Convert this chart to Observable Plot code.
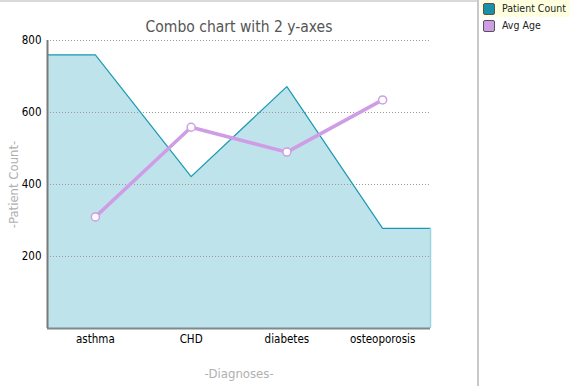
<!DOCTYPE html>
<html>
<head>
<meta charset="utf-8">
<script src="https://cdn.jsdelivr.net/npm/d3@7"></script>
<script src="https://cdn.jsdelivr.net/npm/@observablehq/plot@0.6"></script>
<style>
  body { margin: 0; background: #fff; }
  #wrap { position: relative; width: 570px; height: 386px; overflow: hidden; font-family: "DejaVu Sans Condensed", "DejaVu Sans", sans-serif; }
  #topline { position: absolute; left: 0; top: 0; width: 478px; height: 2px; background: #d9d9d9; }
  #vline { position: absolute; left: 477px; top: 0; width: 2px; height: 386px; background: #c9c9c9; }
  #legend { position: absolute; left: 481px; top: 0; width: 89px; font-size: 10.5px; }
  .item { position: relative; height: 17px; line-height: 17px; padding-left: 21px; color: #222; }
  .item.hl { background: #ffffe0; }
  .sw { position: absolute; left: 2px; top: 3px; width: 10px; height: 10px; border: 1px solid #555; border-radius: 2px; }
  #chart { position: absolute; left: 0; top: 0; }
</style>
</head>
<body>
<div id="wrap">
  <div id="chart"></div>
  <div id="topline"></div>
  <div id="vline"></div>
  <div id="legend"></div>
</div>
<script>
const categories = ["asthma", "CHD", "diabetes", "osteoporosis"];
const patientCount = [760, 422, 672, 278];
const avgAge = [310, 559, 490, 635];
const yTicks = [200, 400, 600, 800];
const seriesNames = ["Patient Count", "Avg Age"];
const seriesColors = ["#1a8fa8", "#cf9de6"];

const rows = categories.map((c, i) => ({i, cat: c, count: patientCount[i], age: avgAge[i]}));
const last = rows.length - 1;
const areaRows = [{i: -0.5, count: patientCount[0]}, ...rows, {i: last + 0.5, count: patientCount[last]}];

const chart = Plot.plot({
  width: 478,
  height: 386,
  marginLeft: 47,
  marginRight: 48,
  marginTop: 40,
  marginBottom: 58,
  style: {fontFamily: "'DejaVu Sans Condensed', 'DejaVu Sans', sans-serif", fontSize: "10px", color: "#000", background: "transparent"},
  x: {type: "linear", domain: [-0.5, last + 0.5]},
  y: {domain: [0, 800]},
  marks: [
    Plot.areaY(areaRows, {x: "i", y: "count", fill: "#bfe3ea"}),
    Plot.gridY(yTicks, {stroke: "#9a9a9a", strokeOpacity: 1, strokeDasharray: "1,2"}),
    Plot.lineY(areaRows, {x: "i", y: "count", stroke: "#1a9ab2", strokeWidth: 1.2}),
    Plot.ruleX([last + 0.5], {y1: 0, y2: d => patientCount[last], stroke: "#9fd3de", strokeWidth: 1.5}),
    Plot.lineY(rows, {x: "i", y: "age", stroke: seriesColors[1], strokeWidth: 3.5}),
    Plot.dot(rows, {x: "i", y: "age", r: 4, fill: "#fff", stroke: seriesColors[1], strokeWidth: 1.5}),
    Plot.ruleY([0], {stroke: "#7d8a8c", strokeWidth: 2}),
    Plot.ruleX([-0.5], {y1: 0, y2: 800, stroke: "#7a7a7a", strokeWidth: 2}),
    Plot.axisY(yTicks, {tickSize: 0, tickPadding: 6, fontSize: 11.5, label: "-Patient Count-", labelAnchor: "center", labelArrow: "none", labelOffset: 39}),
    Plot.axisX(rows.map(d => d.i), {tickSize: 0, tickPadding: 6, fontSize: 11.5, tickFormat: i => categories[i], label: "-Diagnoses-", labelAnchor: "center", labelArrow: "none", labelOffset: 49}),
    Plot.text(["Combo chart with 2 y-axes"], {frameAnchor: "top", dy: -20, fontSize: 15.5, fill: "#555"})
  ]
});
chart.querySelectorAll("g[aria-label='y-axis label'] text, g[aria-label='x-axis label'] text").forEach(t => { t.setAttribute("fill", "#b0b0b0"); t.setAttribute("font-size", "13"); });
document.getElementById("chart").appendChild(chart);

const legend = document.getElementById("legend");
seriesNames.forEach((n, k) => {
  const d = document.createElement("div");
  d.className = "item" + (k === 0 ? " hl" : "");
  d.innerHTML = `<span class="sw" style="background:${seriesColors[k]}"></span>${n}`;
  legend.appendChild(d);
});
</script>
</body>
</html>
